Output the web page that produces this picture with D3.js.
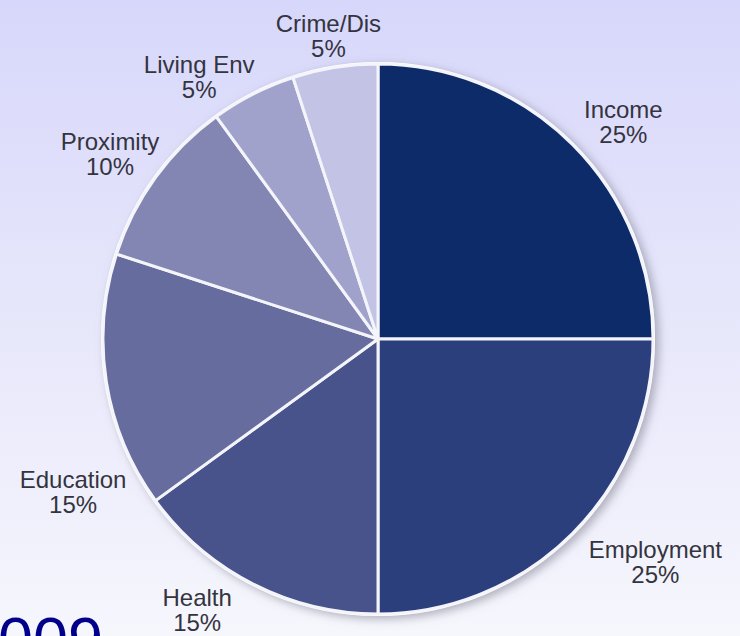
<!DOCTYPE html>
<html>
<head>
<meta charset="utf-8">
<script src="https://cdn.jsdelivr.net/npm/d3@7"></script>
<style>
  html, body { margin: 0; padding: 0; overflow: hidden; }
  svg { display: block; }
</style>
</head>
<body>
<figure id="indexWeights" style="margin:0"></figure>
<script>
// domain names and their weights (percent)
var domains = ["Income", "Employment", "Health", "Education", "Proximity", "Living Env", "Crime/Dis"];
var weights = [25, 25, 15, 15, 10, 5, 5];
var sliceColors = ["#0d2a69", "#2c3f7d", "#48528b", "#666c9d", "#8385b3", "#a0a2cc", "#c3c4e5"];

var width = 740,
    height = 636,
    cx = 378,
    cy = 339,
    radius = 275;

var svg = d3.select("figure#indexWeights")
  .append("svg")
    .attr("width", width)
    .attr("height", height);

var defs = svg.append("defs");

// pale lavender background, lighter towards the bottom
var bg = defs.append("linearGradient")
    .attr("id", "bg")
    .attr("x1", 0).attr("y1", 0).attr("x2", 0).attr("y2", 1);
bg.append("stop").attr("offset", "0%").attr("stop-color", "#d7d7fb");
bg.append("stop").attr("offset", "50%").attr("stop-color", "#e7e7fb");
bg.append("stop").attr("offset", "100%").attr("stop-color", "#f6f6fd");

var shadow = defs.append("filter")
    .attr("id", "shadow")
    .attr("x", "-20%").attr("y", "-20%")
    .attr("width", "140%").attr("height", "140%");
shadow.append("feDropShadow")
    .attr("dx", 4).attr("dy", 3)
    .attr("stdDeviation", 5)
    .attr("flood-color", "#777788")
    .attr("flood-opacity", 0.55);

svg.append("rect")
    .attr("width", width)
    .attr("height", height)
    .attr("fill", "url(#bg)");

var data = domains.map(function(d, i) {
  return {name: d, value: weights[i], color: sliceColors[i]};
});

var pie = d3.pie()
    .sort(null)
    .value(function(d) { return d.value; });

var arc = d3.arc()
    .innerRadius(0)
    .outerRadius(radius);

var g = svg.append("g")
    .attr("transform", "translate(" + cx + "," + cy + ")");

// white disc underneath gives the rim + the soft shadow
g.append("circle")
    .attr("r", radius + 2)
    .attr("fill", "#ffffff")
    .attr("filter", "url(#shadow)");

var arcs = pie(data);

g.selectAll("path.slice")
  .data(arcs)
  .enter()
  .append("path")
    .attr("class", "slice")
    .attr("d", arc)
    .attr("fill", function(d) { return d.data.color; })
    .attr("stroke", "#f4f4fb")
    .attr("stroke-width", 3)
    .attr("stroke-linejoin", "round");

// labels sit near an outer ring, nudged like in the original layout
var labelArc = d3.arc()
    .innerRadius(330)
    .outerRadius(330);

var nudge = {
  "Income": [12, 14],
  "Employment": [44, -12],
  "Health": [-31, -25],
  "Education": [21, 99],
  "Proximity": [-1, 7],
  "Living Env": [-29, 30],
  "Crime/Dis": [2, 21]
};

var label = g.selectAll("text.label")
  .data(arcs)
  .enter()
  .append("text")
    .attr("class", "label")
    .attr("text-anchor", "middle")
    .attr("font-family", "'Liberation Sans', Arial, sans-serif")
    .attr("font-size", "24px")
    .attr("fill", "#34343f")
    .attr("transform", function(d) {
      var c = labelArc.centroid(d),
          n = nudge[d.data.name];
      return "translate(" + (c[0] + n[0]) + "," + (c[1] + n[1]) + ")";
    });

label.append("tspan")
    .attr("x", 0)
    .attr("y", -2)
    .text(function(d) { return d.data.name; });

label.append("tspan")
    .attr("x", 0)
    .attr("y", 23)
    .text(function(d) { return d.data.value + "%"; });

// year text bleeding off the bottom-left corner
svg.append("text")
    .attr("x", 103)
    .attr("y", 661)
    .attr("text-anchor", "end")
    .attr("font-family", "'Liberation Sans', Arial, sans-serif")
    .attr("font-size", "63px")
    .attr("fill", "#00008b")
    .text("2009");
</script>
</body>
</html>
